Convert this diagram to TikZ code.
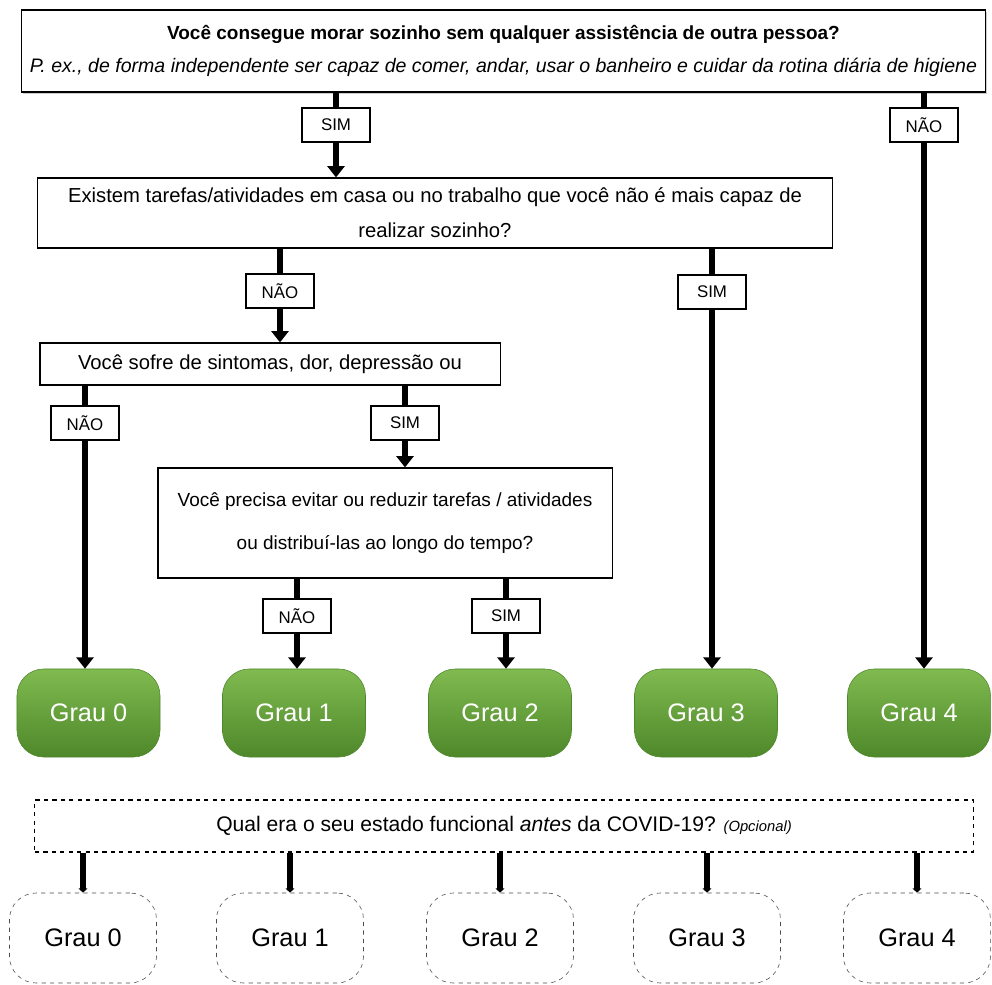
\documentclass[tikz,border=0pt]{standalone}
\usepackage{fontspec}
\setmainfont{Liberation Sans}
\usetikzlibrary{arrows.meta,shadows}

\definecolor{grauverde}{RGB}{128,186,80}
\definecolor{grauescuro}{RGB}{78,136,42}

\tikzset{
  pergunta/.style={draw, line width=0.8pt, fill=white, align=center, font=\fontsize{14.4}{25}\selectfont},
  resposta/.style={draw, line width=0.8pt, fill=white, minimum width=1.7cm, minimum height=0.85cm, font=\fontsize{12}{14}\selectfont},
  seta/.style={line width=4pt, -{Triangle[width=12pt,length=8pt]}},
  traco/.style={line width=4pt},
  grau/.style={rectangle, rounded corners=19pt, minimum width=3.575cm, minimum height=2.2cm, draw=grauescuro, top color=grauverde, bottom color=grauescuro, text=white, font=\fontsize{18}{20}\selectfont},
  grauantes/.style={rectangle, rounded corners=19pt, minimum width=3.675cm, minimum height=2.25cm, draw=black!70, dashed, fill=white, font=\fontsize{18}{20}\selectfont},
}

\begin{document}
\begin{tikzpicture}[x=0.025cm, y=-0.025cm]
\useasboundingbox (0,0) rectangle (992,985);

% perguntas
\node[pergunta, drop shadow={shadow xshift=1pt, shadow yshift=-1.5pt, fill=black!40}, minimum width=24.075cm, minimum height=2.05cm, font=\fontsize{13.5}{23}\selectfont] (q1) at (503.5,51)
  {{\bfseries Você consegue morar sozinho sem qualquer assistência de outra pessoa?}\\
   {\itshape\fontsize{13.9}{14}\selectfont P. ex., de forma independente ser capaz de comer, andar, usar o banheiro e cuidar da rotina diária de higiene}};
\node[pergunta, minimum width=19.85cm, minimum height=1.75cm] (q2) at (435,213)
  {Existem tarefas/atividades em casa ou no trabalho que você não é mais capaz de\\ realizar sozinho?};
\node[pergunta, minimum width=11.5cm, minimum height=1.05cm] (q3) at (270,364)
  {Você sofre de sintomas, dor, depressão ou};
\node[pergunta, minimum width=11.35cm, minimum height=2.75cm, font=\fontsize{13.5}{30}\selectfont] (q4) at (385,523)
  {Você precisa evitar ou reduzir tarefas / atividades\\ ou distribuí-las ao longo do tempo?};

% respostas
\node[resposta] (r1) at (336,125) {SIM};
\node[resposta] (r2) at (924,125) {NÃO};
\node[resposta] (r3) at (280,291) {NÃO};
\node[resposta] (r4) at (712,292) {SIM};
\node[resposta] (r5) at (85,423) {NÃO};
\node[resposta] (r6) at (405,423) {SIM};
\node[resposta] (r7) at (297,616) {NÃO};
\node[resposta] (r8) at (506,616) {SIM};

% graus
\node[grau] (g0) at (88.5,713) {Grau 0};
\node[grau] (g1) at (294,713) {Grau 1};
\node[grau] (g2) at (500,713) {Grau 2};
\node[grau] (g3) at (706,713) {Grau 3};
\node[grau] (g4) at (919,713) {Grau 4};

% antes da COVID-19
\node[pergunta, dashed, minimum width=23.45cm, minimum height=1.3cm, font=\fontsize{15}{18}\selectfont] (qa) at (504,826)
  {Qual era o seu estado funcional \textit{antes} da COVID-19? {\itshape\fontsize{10.5}{12}\selectfont (Opcional)}};
\node[grauantes] (a0) at (83,938) {Grau 0};
\node[grauantes] (a1) at (290,938) {Grau 1};
\node[grauantes] (a2) at (500,938) {Grau 2};
\node[grauantes] (a3) at (707,938) {Grau 3};
\node[grauantes] (a4) at (917,938) {Grau 4};

% setas
\draw[traco] (q1.south -| r1) -- (r1);
\draw[seta] (r1) -- (q2.north -| r1);
\draw[traco] (q1.south -| r2) -- (r2);
\draw[seta] (r2) -- (g4.north -| r2);
\draw[traco] (q2.south -| r3) -- (r3);
\draw[seta] (r3) -- (q3.north -| r3);
\draw[traco] (q2.south -| r4) -- (r4);
\draw[seta] (r4) -- (g3.north -| r4);
\draw[traco] (q3.south -| r5) -- (r5);
\draw[seta] (r5) -- (g0.north -| r5);
\draw[traco] (q3.south -| r6) -- (r6);
\draw[seta] (r6) -- (q4.north -| r6);
\draw[traco] (q4.south -| r7) -- (r7);
\draw[seta] (r7) -- (g1.north -| r7);
\draw[traco] (q4.south -| r8) -- (r8);
\draw[seta] (r8) -- (g2.north -| r8);

\foreach \i in {0,...,4}
  \draw[traco, -{Triangle[width=6pt,length=3pt]}] (qa.south -| a\i) -- (a\i.north);
\end{tikzpicture}
\end{document}
